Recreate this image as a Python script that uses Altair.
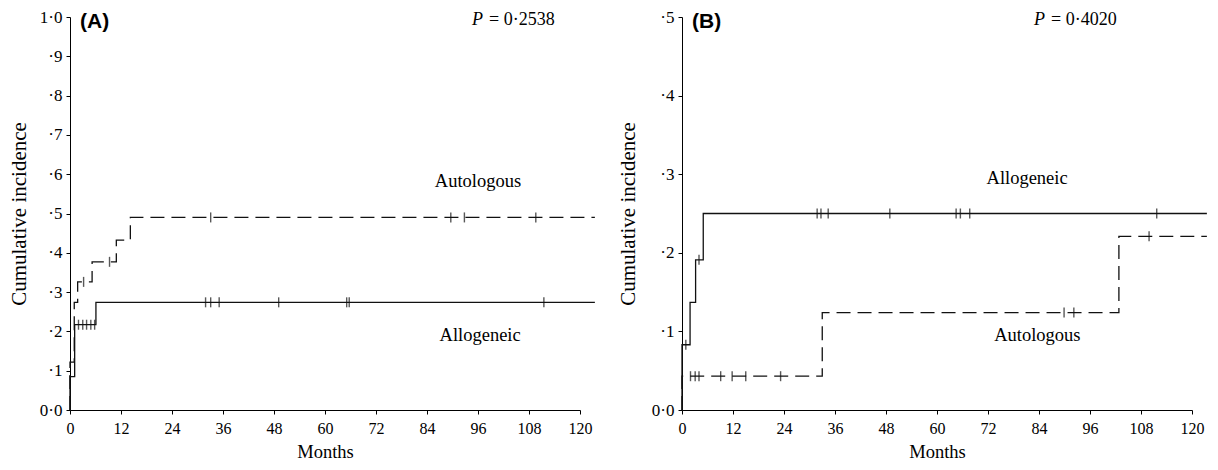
import altair as alt
import pandas as pd

SERIES = ["Allogeneic", "Autologous"]

# ---------------- Panel A ----------------
a_allo_t = [0, 0, 1.1, 6.1, 123.5]
a_allo_v = [0, 0.085, 0.217, 0.274, 0.274]
a_auto_t = [0, 0, 1.0, 1.8, 5.2, 10.9, 14.2, 123.5]
a_auto_v = [0, 0.122, 0.274, 0.326, 0.377, 0.432, 0.490, 0.490]
a_allo_cens_t = [2.0, 3.0, 3.9, 4.9, 5.8, 31.9, 33.1, 35.1, 49.1, 65.1, 65.7, 111.5]
a_allo_cens_v = [0.217, 0.217, 0.217, 0.217, 0.217, 0.274, 0.274, 0.274, 0.274, 0.274, 0.274, 0.274]
a_auto_cens_t = [3.2, 9.3, 33.1, 89.6, 92.8, 109.6]
a_auto_cens_v = [0.326, 0.377, 0.490, 0.490, 0.490, 0.490]

# ---------------- Panel B ----------------
b_allo_t = [0, 0, 1.9, 3.2, 5.0, 123.5]
b_allo_v = [0, 0.083, 0.137, 0.191, 0.250, 0.250]
b_auto_t = [0, 0, 33.0, 102.8, 123.5]
b_auto_v = [0, 0.043, 0.124, 0.221, 0.221]
b_allo_cens_t = [0.9, 4.0, 31.8, 32.7, 34.4, 48.9, 64.5, 65.5, 67.7, 111.7]
b_allo_cens_v = [0.083, 0.191, 0.250, 0.250, 0.250, 0.250, 0.250, 0.250, 0.250, 0.250]
b_auto_cens_t = [2.0, 3.1, 4.0, 9.1, 11.8, 15.0, 23.2, 89.9, 92.2, 109.9]
b_auto_cens_v = [0.043, 0.043, 0.043, 0.043, 0.043, 0.043, 0.043, 0.124, 0.124, 0.221]

x_ticks = [0, 12, 24, 36, 48, 60, 72, 84, 96, 108, 120]
a_y_ticks = [0, 0.1, 0.2, 0.3, 0.4, 0.5, 0.6, 0.7, 0.8, 0.9, 1.0]
b_y_ticks = [0, 0.1, 0.2, 0.3, 0.4, 0.5]

SERIF = "Liberation Serif"
W, H = 510, 393


def lines_df(allo_t, allo_v, auto_t, auto_v):
    rows = []
    for i, (t, v) in enumerate(zip(allo_t, allo_v)):
        rows.append({"t": t, "v": v, "series": "Allogeneic", "idx": i})
    for i, (t, v) in enumerate(zip(auto_t, auto_v)):
        rows.append({"t": t, "v": v, "series": "Autologous", "idx": i})
    return pd.DataFrame(rows)


def cens_df(allo_t, allo_v, auto_t, auto_v):
    rows = [{"t": t, "v": v, "series": "Allogeneic"} for t, v in zip(allo_t, allo_v)]
    rows += [{"t": t, "v": v, "series": "Autologous"} for t, v in zip(auto_t, auto_v)]
    return pd.DataFrame(rows)


label_expr = ("datum.value == 0 ? '0·0' : (datum.value >= 0.999 ? '1·0' : "
              "'·' + format(round(datum.value * 10), 'd'))")


def panel(ldf, cdf, ymax, yticks, ytitle_pad, tag, pval, lab_allo, lab_auto):
    xs = alt.Scale(domain=[0, 120], nice=False)
    ys = alt.Scale(domain=[0, ymax], nice=False)
    xaxis = alt.Axis(values=x_ticks, title="Months", grid=False, labelFont=SERIF,
                     labelFontSize=16, titleFont=SERIF, titleFontSize=18.5,
                     titleFontWeight="normal", labelColor="black", titleColor="black",
                     domainColor="black", tickColor="black", tickSize=4,
                     labelPadding=6, titlePadding=6, labelFlush=False,
                     labelOverlap=False)
    yaxis = alt.Axis(values=yticks, title="Cumulative incidence", grid=False,
                     labelExpr=label_expr, labelFont=SERIF, labelFontSize=17,
                     titleFont=SERIF, titleFontSize=21, titleFontWeight="normal",
                     labelColor="black", titleColor="black", domainColor="black",
                     tickColor="black", tickSize=4, labelPadding=4,
                     titlePadding=ytitle_pad, labelFlush=False, labelOverlap=False)
    dash = alt.StrokeDash("series:N", scale=alt.Scale(domain=SERIES, range=[[1, 0], [14, 7]]),
                          legend=None)
    lines = alt.Chart(ldf).mark_line(interpolate="step-after", color="#111",
                                     strokeWidth=1.3, clip=False).encode(
        x=alt.X("t:Q", scale=xs, axis=xaxis),
        y=alt.Y("v:Q", scale=ys, axis=yaxis),
        strokeDash=dash,
        detail="series:N",
        order="idx:Q",
    )
    ticks = alt.Chart(cdf).mark_tick(orient="vertical", color="#111", size=10,
                                     thickness=1.4).encode(
        x=alt.X("t:Q", scale=xs, axis=xaxis), y=alt.Y("v:Q", scale=ys, axis=yaxis))
    tag_t = alt.Chart().mark_text(text=tag, font="Liberation Sans", fontWeight="bold",
                                  fontSize=21, align="left", baseline="middle",
                                  color="black").encode(x=alt.value(10), y=alt.value(5))
    p_t = alt.Chart().mark_text(text="P", font=SERIF, fontStyle="italic", fontSize=18,
                                align="left", baseline="middle", color="black").encode(
        x=alt.value(pval[1]), y=alt.value(3))
    p_v = alt.Chart().mark_text(text="= " + pval[0], font=SERIF, fontSize=18,
                                align="left", baseline="middle", color="black").encode(
        x=alt.value(pval[1] + 17), y=alt.value(3))
    t1 = alt.Chart().mark_text(text="Allogeneic", font=SERIF, fontSize=18.5,
                               baseline="middle", color="black").encode(
        x=alt.XDatum(lab_allo[0], scale=xs, axis=xaxis),
        y=alt.YDatum(lab_allo[1], scale=ys, axis=yaxis))
    t2 = alt.Chart().mark_text(text="Autologous", font=SERIF, fontSize=18.5,
                               baseline="middle", color="black").encode(
        x=alt.XDatum(lab_auto[0], scale=xs, axis=xaxis),
        y=alt.YDatum(lab_auto[1], scale=ys, axis=yaxis))
    return alt.layer(lines, ticks, tag_t, p_t, p_v, t1, t2).properties(width=W, height=H)


pa = panel(lines_df(a_allo_t, a_allo_v, a_auto_t, a_auto_v),
           cens_df(a_allo_cens_t, a_allo_cens_v, a_auto_cens_t, a_auto_cens_v),
           1.0, a_y_ticks, 10, "(A)", ("0·2538", 402), (96.5, 0.192), (96.0, 0.583))
pb = panel(lines_df(b_allo_t, b_allo_v, b_auto_t, b_auto_v),
           cens_df(b_allo_cens_t, b_allo_cens_v, b_auto_cens_t, b_auto_cens_v),
           0.5, b_y_ticks, 13, "(B)", ("0·4020", 352), (81.2, 0.295), (83.6, 0.095))

chart = alt.hconcat(pa, pb, spacing=19).properties(
    padding={"left": 0, "top": 0, "right": 0, "bottom": 0}
).configure_view(stroke=None)

chart.save("out.html", embed_options={"renderer": "svg", "actions": False})
